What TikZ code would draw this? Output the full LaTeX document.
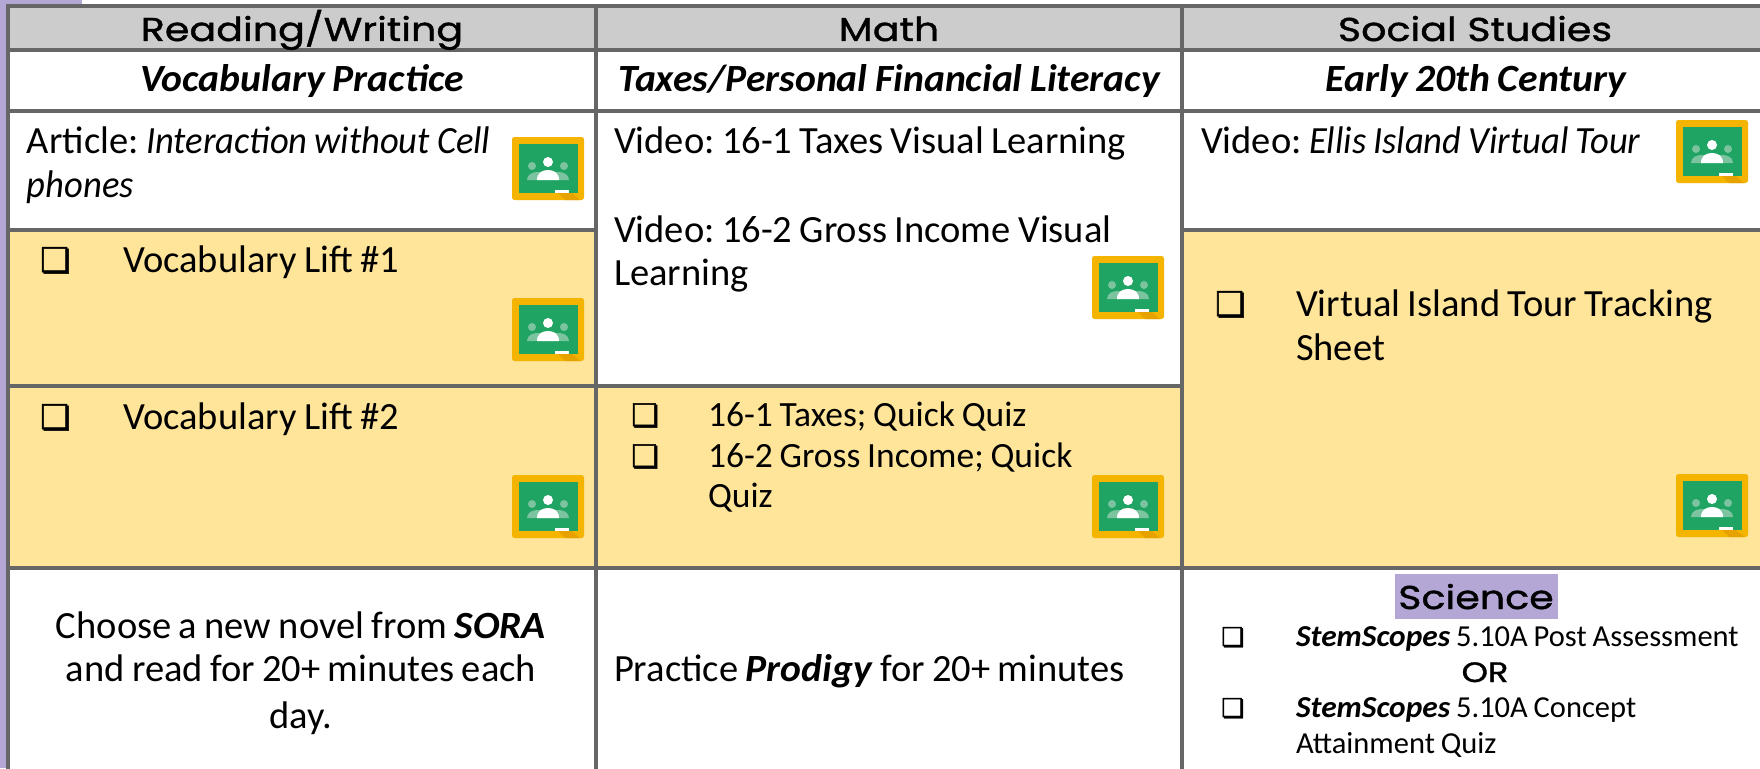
\documentclass[tikz,border=0pt]{standalone}
\usepackage{fontspec}
\setmainfont{Carlito}[WordSpace=0.85,ItalicFeatures={FakeStretch=0.95},BoldItalicFeatures={FakeStretch=1.03}]
\newfontfamily\headfont{Poppins}[FakeBold=1.2,FakeStretch=1.2]
\newfontfamily\symfont{DejaVu Sans}[FakeBold=1.6]
\frenchspacing
\definecolor{rulegray}{HTML}{666666}
\definecolor{headgray}{HTML}{CCCCCC}
\definecolor{softyellow}{HTML}{FFE599}
\definecolor{softpurple}{HTML}{B4A7D6}
\definecolor{iconyellow}{HTML}{F4B400}
\definecolor{iconshade}{HTML}{E8A200}
\definecolor{icongreen}{HTML}{1FA463}
\definecolor{iconpale}{HTML}{7CC4A0}
\newcommand{\bodysize}{\fontsize{38.5}{44}\selectfont}
\newcommand{\midsize}{\fontsize{35.5}{40}\selectfont}
\newcommand{\smallsize}{\fontsize{30.5}{36}\selectfont}
\tikzset{
  x=1pt,y=-1pt,
  tablerule/.style={draw=rulegray,line width=4pt,line cap=rect},
  txt/.style={anchor=base west,inner sep=0pt,outer sep=0pt,align=left},
  mid/.style={anchor=base,inner sep=0pt,outer sep=0pt,align=center},
  headtxt/.style={anchor=base,inner sep=0pt,font=\headfont\fontsize{33}{36}\selectfont},
  subtxt/.style={anchor=base,inner sep=0pt,font=\bodysize\bfseries\itshape},
  boxbig/.style={anchor=base west,inner sep=0pt,font=\symfont\fontsize{34}{34}\selectfont},
  boxmid/.style={anchor=base west,inner sep=0pt,font=\symfont\fontsize{31}{31}\selectfont},
  boxsmall/.style={anchor=base west,inner sep=0pt,font=\symfont\fontsize{26}{26}\selectfont},
  classicon/.pic={
    \fill[iconyellow,rounded corners=2.5pt] (0,0) rectangle (72,63);
    \fill[icongreen] (7,7) rectangle (66,56);
    \fill[iconshade] (46,56) -- (60,56) -- (68,63) -- (53,63) -- cycle;
    \fill[white] (43,53) rectangle (57,56);
    \fill[iconpale] (20,29) circle (4);
    \fill[iconpale] (52,29) circle (4);
    \fill[iconpale] (15,43) .. controls (15,37) and (21,35) .. (26,35) -- (46,35) .. controls (51,35) and (57,37) .. (57,43) -- cycle;
    \fill[white] (36,25) circle (5);
    \fill[white] (25,43) .. controls (25,36) and (30,33) .. (36,33) .. controls (42,33) and (47,36) .. (47,43) -- cycle;
  }
}
\begin{document}
\begin{tikzpicture}
\useasboundingbox (0,0) rectangle (1760,768);
\fill[white] (0,0) rectangle (1760,768);
% purple page strip
\fill[softpurple] (0,0) rectangle (82,4);
\fill[softpurple] (0,0) rectangle (7,768);
% cell fills
\fill[headgray] (8,6) rectangle (1760,50);
\fill[softyellow] (8,230) rectangle (596,568);
\fill[softyellow] (596,386) rectangle (1182,568);
\fill[softyellow] (1182,230) rectangle (1760,568);
% rules
\draw[tablerule] (8,6) -- (1760,6);
\draw[tablerule] (8,50) -- (1760,50);
\draw[tablerule] (8,111) -- (1760,111);
\draw[tablerule] (8,230) -- (596,230);
\draw[tablerule] (1182,230) -- (1760,230);
\draw[tablerule] (8,386) -- (1182,386);
\draw[tablerule] (8,568) -- (1760,568);
\draw[tablerule] (8,6) -- (8,768);
\draw[tablerule] (596,6) -- (596,768);
\draw[tablerule] (1182,6) -- (1182,768);
% headers
\node[headtxt] (h1) at (302,41) {Reading/Writing};
\node[headtxt] (h2) at (889,41) {Math};
\node[headtxt] (h3) at (1475,41) {Social Studies};
\node[subtxt] (s1) at (302,91) {Vocabulary Practice};
\node[subtxt] (s2) at (889,91) {Taxes/Personal Financial Literacy};
\node[subtxt] (s3) at (1476,91) {Early 20th Century};
% column 1
\node[txt,font=\bodysize] (a1) at (27,153) {Article: \textit{Interaction without Cell}};
\node[txt,font=\bodysize] (a2) at (27,197) {\textit{phones}};
\node[boxbig] (c1) at (40,272) {❏};
\node[txt,font=\bodysize] (l1) at (123,272) {Vocabulary Lift \#1};
\node[boxbig] (c2) at (40,429) {❏};
\node[txt,font=\bodysize] (l2) at (123,429) {Vocabulary Lift \#2};
\node[mid,font=\bodysize] (r1) at (301,638) {Choose a new novel from \textbf{\textit{SORA}}};
\node[mid,font=\bodysize] (r2) at (301,681) {and read for 20+ minutes each};
\node[mid,font=\bodysize] (r3) at (301,728) {day.};
% column 2
\node[txt,font=\bodysize] (v1) at (614,153) {Video: 16-1 Taxes Visual Learning};
\node[txt,font=\bodysize] (v2) at (614,242) {Video: 16-2 Gross Income Visual};
\node[txt,font=\bodysize] (v3) at (614,285) {Learning};
\node[boxmid] (c3) at (631,426) {❏};
\node[txt,font=\midsize] (q1) at (708,426) {16-1 Taxes; Quick Quiz};
\node[boxmid] (c4) at (631,467) {❏};
\node[txt,font=\midsize] (q2) at (708,467) {16-2 Gross Income; Quick};
\node[txt,font=\midsize] (q3) at (708,507) {Quiz};
\node[txt,font=\bodysize] (p1) at (614,681) {Practice \textbf{\textit{Prodigy}} for 20+ minutes};
% column 3
\node[txt,font=\bodysize] (e1) at (1201,153) {Video: \textit{Ellis Island Virtual Tour}};
\node[boxbig] (c5) at (1215,316) {❏};
\node[txt,font=\bodysize] (t1) at (1296,316) {Virtual Island Tour Tracking};
\node[txt,font=\bodysize] (t2) at (1296,360) {Sheet};
\fill[softpurple] (1395,574) rectangle (1558,619);
\node[headtxt] (sci) at (1476,609) {Science};
\node[boxsmall] (c6) at (1221,646) {❏};
\node[txt,font=\smallsize] (m1) at (1296,646) {\textbf{\textit{StemScopes}} 5.10A Post Assessment};
\node[headtxt,font=\headfont\fontsize{28}{30}\selectfont] (or) at (1485,682) {OR};
\node[boxsmall] (c7) at (1221,717) {❏};
\node[txt,font=\smallsize] (m2) at (1296,717) {\textbf{\textit{StemScopes}} 5.10A Concept};
\node[txt,font=\smallsize] (m3) at (1296,753) {Attainment Quiz};
% classroom icons
\pic at (512,137) {classicon};
\pic at (512,298) {classicon};
\pic at (512,475) {classicon};
\pic at (1092,256) {classicon};
\pic at (1092,475) {classicon};
\pic at (1676,120) {classicon};
\pic at (1676,474) {classicon};
\end{tikzpicture}
\end{document}
